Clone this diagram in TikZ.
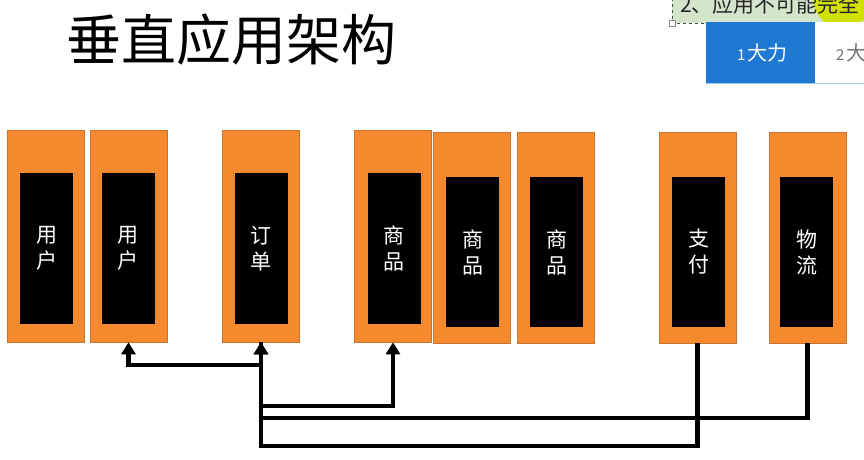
\documentclass[tikz,border=0pt]{standalone}
\usepackage{fontspec}
\newfontfamily\cjk{Noto Sans CJK SC}
\usetikzlibrary{arrows.meta}
\definecolor{orng}{HTML}{F5892E}
\definecolor{orngline}{HTML}{C8742F}
\definecolor{tabblue}{HTML}{1F78D1}
\definecolor{notegreen}{HTML}{D3E6CC}
\definecolor{hilite}{HTML}{D2E000}
\tikzset{
  obox/.style={fill=orng, draw=orngline, line width=0.6pt, minimum width=77pt, inner sep=0pt},
  ibox/.style={fill=black, draw=none, minimum width=53pt, inner sep=0pt, text=white,
    align=center, font=\cjk\fontsize{21}{26}\selectfont},
  arr/.style={line width=4.2pt, -{Triangle[width=14pt,length=12pt]}},
}
\begin{document}
\begin{tikzpicture}[x=1pt,y=-1pt]
\useasboundingbox (0,0) rectangle (864,459);
\begin{scope}
\clip (0,0) rectangle (864,459);
% top-right screenshot remnants
\fill[notegreen] (672,-2) rectangle (866,23);
\fill[hilite] (843,-2) circle (30);
\draw[dashed, line width=0.7pt, black!70] (672,-2) -- (672,23) -- (866,23);
\node[anchor=west, inner sep=0pt, font=\cjk\fontsize{21}{21}\selectfont, text=black!85] (note) at (680,4) {2、应用不可能完全};
\node[draw=black!45, fill=white, line width=0.6pt, minimum size=6pt, inner sep=0pt] (handle) at (672,23) {};
\fill[tabblue] (706,22) rectangle (815,83);
\fill[white] (815,22) rectangle (866,83);
\draw[tabblue!40, line width=0.8pt] (706,83) -- (866,83);
\node[anchor=center, inner sep=0pt, text=white] (tab1) at (762,53) {{\cjk\fontsize{15}{15}\selectfont 1}\,{\cjk\fontsize{20}{20}\selectfont 大力}};
\node[anchor=west, inner sep=0pt, text=black!55] (tab2) at (836,53) {{\cjk\fontsize{15}{15}\selectfont 2}\,{\cjk\fontsize{20}{20}\selectfont 大力}};
\end{scope}
% title
\node[anchor=west, inner sep=0pt, font=\cjk\fontsize{55}{55}\selectfont] (title) at (66,40) {垂直应用架构};
% orange boxes
\node[obox, minimum height=212pt] (o1) at (45.5,236) {};
\node[obox, minimum height=212pt] (o2) at (128.5,236) {};
\node[obox, minimum height=212pt] (o3) at (261,236) {};
\node[obox, minimum height=212pt] (o4) at (393,236) {};
\node[obox, minimum height=211pt] (o5) at (471.5,237.5) {};
\node[obox, minimum height=211pt] (o6) at (555.5,237.5) {};
\node[obox, minimum height=211pt] (o7) at (697.5,237.5) {};
\node[obox, minimum height=211pt] (o8) at (807.5,237.5) {};
% black inner boxes
\node[ibox, minimum height=151pt] (b1) at (46.5,248.5) {用\\户};
\node[ibox, minimum height=151pt] (b2) at (128,248.5) {用\\户};
\node[ibox, minimum height=151pt] (b3) at (261,248.5) {订\\单};
\node[ibox, minimum height=151pt] (b4) at (394,248.5) {商\\品};
\node[ibox, minimum height=150pt] (b5) at (472.5,252) {商\\品};
\node[ibox, minimum height=150pt] (b6) at (556.5,252) {商\\品};
\node[ibox, minimum height=150pt] (b7) at (698.5,252) {支\\付};
\node[ibox, minimum height=150pt] (b8) at (806.5,252) {物\\流};
% connectors
\coordinate (c1) at (261,365);
\coordinate (c2) at (261,406);
\coordinate (c3) at (807.5,418);
\coordinate (c4) at (697.5,446);
\draw[arr] (o3.south) -- (c1) -| (o2.south);
\draw[arr] (o3.south) -- (c2) -| (o4.south);
\draw[arr] (o8.south) -- (c3) -| (o3.south);
\draw[arr] (o7.south) -- (c4) -| (o3.south);
\end{tikzpicture}
\end{document}
